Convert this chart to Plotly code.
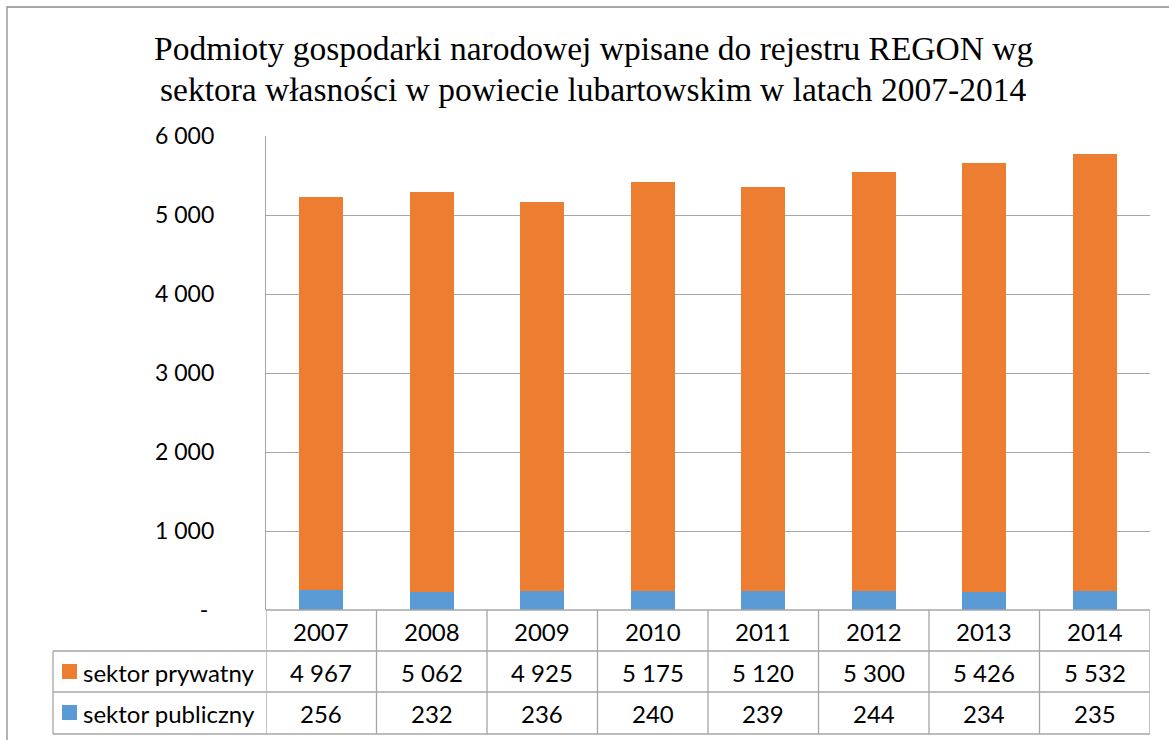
import plotly.graph_objects as go

years = ["2007", "2008", "2009", "2010", "2011", "2012", "2013", "2014"]
private = [4967, 5062, 4925, 5175, 5120, 5300, 5426, 5532]
public = [256, 232, 236, 240, 239, 244, 234, 235]
series_names = ["sektor prywatny", "sektor publiczny"]
tick_vals = [0, 1000, 2000, 3000, 4000, 5000, 6000]
tick_text = ["-\u00a0", "1 000", "2 000", "3 000", "4 000", "5 000", "6 000"]
title_lines = ["Podmioty gospodarki narodowej wpisane do rejestru REGON wg",
               "sektora własności w powiecie lubartowskim w latach 2007-2014"]

W, H = 1169, 740
OFF = 0  # body margin removed via post_script
ORANGE = "#ED7D31"
BLUE = "#5B9BD5"
GRID = "#A6A6A6"
FONT = "Lato"


def px(v):
    return (v - OFF) / W


def py(v):
    return (H - (v - OFF)) / H


def fmt(v):
    return f"{v:,}".replace(",", " ")


fig = go.Figure()
fig.add_trace(go.Bar(x=list(range(len(years))), y=public, name=series_names[1],
                     marker=dict(color=BLUE, line=dict(width=0))))
fig.add_trace(go.Bar(x=list(range(len(years))), y=private, name=series_names[0],
                     marker=dict(color=ORANGE, line=dict(width=0))))

shapes = []
annotations = []

# outer chart border (right/bottom edges lie outside the picture)
shapes.append(dict(type="rect", xref="paper", yref="paper",
                   x0=px(7), x1=px(1200), y0=py(770), y1=py(7),
                   line=dict(color="#8C8C8C", width=1.3), layer="below"))

# table horizontal lines
y_years, y_priv, y_pub = 631, 672, 713
for yl in [651, 692, 734]:
    shapes.append(dict(type="line", xref="paper", yref="paper",
                       x0=px(53), x1=px(1150), y0=py(yl), y1=py(yl),
                       line=dict(color=GRID, width=1.3)))
shapes.append(dict(type="line", xref="paper", yref="paper",
                   x0=px(266), x1=px(1150), y0=py(610), y1=py(610),
                   line=dict(color=GRID, width=1.3)))
# label column left border
shapes.append(dict(type="line", xref="paper", yref="paper",
                   x0=px(53), x1=px(53), y0=py(651), y1=py(734),
                   line=dict(color=GRID, width=1.3)))
# table vertical lines at category boundaries
for i in range(len(years) + 1):
    shapes.append(dict(type="line", xref="x", yref="paper",
                       x0=i - 0.5, x1=i - 0.5, y0=py(734), y1=py(610),
                       line=dict(color=GRID, width=1.3)))

# legend keys in table
for yc, col in [(y_priv, ORANGE), (y_pub, BLUE)]:
    shapes.append(dict(type="rect", xref="paper", yref="paper",
                       x0=px(62), x1=px(77), y0=py(yc + 7), y1=py(yc - 8),
                       fillcolor=col, line=dict(width=0)))

fs = 24
for yc, name in [(y_priv, series_names[0]), (y_pub, series_names[1])]:
    annotations.append(dict(text=name, xref="paper", yref="paper",
                            x=px(81), y=py(yc), xanchor="left", yanchor="middle",
                            showarrow=False, font=dict(family=FONT, size=fs, color="#000")))

for i, yr in enumerate(years):
    annotations.append(dict(text=yr, xref="x", yref="paper", x=i, y=py(y_years),
                            xanchor="center", yanchor="middle", showarrow=False,
                            font=dict(family=FONT, size=fs, color="#000")))
    annotations.append(dict(text=fmt(private[i]), xref="x", yref="paper", x=i, y=py(y_priv),
                            xanchor="center", yanchor="middle", showarrow=False,
                            font=dict(family=FONT, size=fs, color="#000")))
    annotations.append(dict(text=fmt(public[i]), xref="x", yref="paper", x=i, y=py(y_pub),
                            xanchor="center", yanchor="middle", showarrow=False,
                            font=dict(family=FONT, size=fs, color="#000")))

# title lines
for k, line in enumerate(title_lines):
    annotations.append(dict(text=line, xref="paper", yref="paper",
                            x=px(593), y=py(49 + 40 * k), xanchor="center", yanchor="middle",
                            showarrow=False,
                            font=dict(family="Liberation Serif", size=33.5, color="#000")))

fig.update_layout(
    width=W, height=H,
    margin=dict(l=0, r=0, t=0, b=0, autoexpand=False),
    paper_bgcolor="white", plot_bgcolor="white",
    barmode="stack", bargap=0.6,
    showlegend=False,
    hovermode=False,
    xaxis=dict(domain=[px(266), px(1150)], range=[-0.5, len(years) - 0.5],
               showticklabels=False, showgrid=False, zeroline=False, showline=False,
               fixedrange=True, automargin=False),
    yaxis=dict(domain=[py(610), py(136)], range=[0, 6000],
               tickvals=tick_vals, ticktext=tick_text,
               showgrid=True, gridcolor=GRID, gridwidth=1.3, zeroline=False,
               showline=True, linecolor=GRID, linewidth=1.3,
               ticks="", ticklabelstandoff=46, automargin=False, fixedrange=True,
               tickfont=dict(family=FONT, size=23, color="#000")),
    shapes=shapes,
    annotations=annotations,
)

fig.write_html("out.html",
               config={"displayModeBar": False},
               post_script="document.body.style.margin='0';"
                           "document.body.style.overflow='hidden';")
